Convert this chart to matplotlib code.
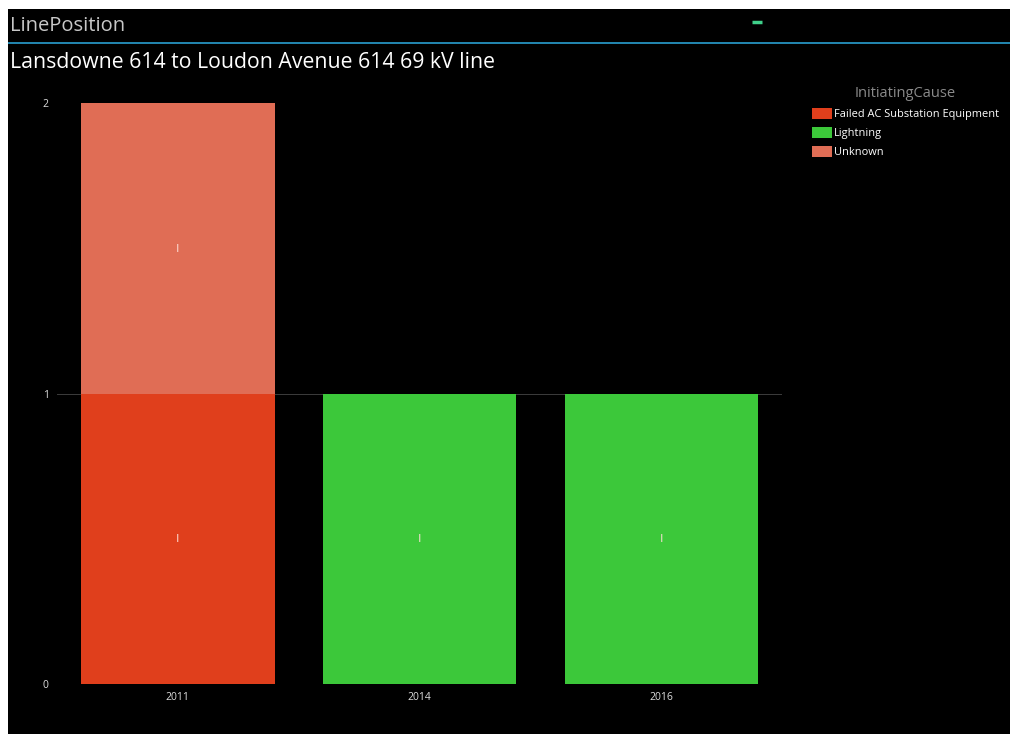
import matplotlib.pyplot as plt
import numpy as np

# Outage counts per year, split by initiating cause
years = ["2011", "2014", "2016"]
causes = ["Failed AC Substation Equipment", "Lightning", "Unknown"]
failed_ac = [1, 0, 0]
lightning = [0, 1, 1]
unknown = [1, 0, 0]
y_ticks = [0, 1, 2]

colors = {
    "Failed AC Substation Equipment": "#e03f1c",
    "Lightning": "#3cc83a",
    "Unknown": "#e06d55",
}

plt.rcParams["font.family"] = ["Open Sans", "DejaVu Sans"]

fig = plt.figure(figsize=(10.1, 7.34), dpi=100)
fig.patch.set_facecolor("white")

# black panel with a thin white frame on the top and left
panel = fig.add_axes([8 / 1010, 0, 1 - 8 / 1010, 1 - 9 / 734])
panel.set_facecolor("black")
panel.set_xticks([])
panel.set_yticks([])
for s in panel.spines.values():
    s.set_visible(False)
panel.set_xlim(0, 1)
panel.set_ylim(0, 1)
# header separator line and small marker
sep_y = 1 - (43 - 9) / (734 - 9)
panel.axhline(sep_y, color="#2a9fd0", lw=1.2)
panel.plot([(752 - 8) / 1002, (762 - 8) / 1002], [1 - (22 - 9) / 725] * 2,
           color="#3fd08a", lw=2.5, solid_capstyle="butt")

fig.text(10 / 1010, 1 - 26 / 734, "LinePosition", color="#c8c8c8",
         fontsize=14.5, va="center", ha="left")
fig.text(10 / 1010, 1 - 63 / 734, "Lansdowne 614 to Loudon Avenue 614 69 kV line",
         color="white", fontsize=15.3, va="center", ha="left")

ax = fig.add_axes([57 / 1010, 50 / 734, 725 / 1010, 581 / 734])
ax.set_facecolor("black")
x = np.arange(len(years))
width = 0.8

# faint reference line at one outage
ax.axhline(1, color="#3c3c3c", lw=0.7, zorder=1)

series = [failed_ac, lightning, unknown]
bottom = np.zeros(len(years))
for cause, vals in zip(causes, series):
    vals = np.array(vals, dtype=float)
    ax.bar(x, vals, width, bottom=bottom, color=colors[cause], label=cause, zorder=2)
    # faint centre marks inside each segment
    for xi, v, b in zip(x, vals, bottom):
        if v > 0:
            ax.text(xi, b + v / 2, "ı", color="#ffe0d8", fontsize=10,
                    ha="center", va="center", alpha=0.85, zorder=3)
    bottom += vals

ax.set_xlim(-0.5, 2.5)
ax.set_ylim(0, 2)
ax.set_yticks(y_ticks)
ax.set_xticks(x)
ax.set_xticklabels(years)
ax.tick_params(colors="#dddddd", labelsize=7.5, length=0, pad=6)
ax.tick_params(axis="y", pad=6)
for s in ax.spines.values():
    s.set_visible(False)

leg = ax.legend(loc="upper left", bbox_to_anchor=(1.035, 1.036), frameon=False,
                title="InitiatingCause", fontsize=7.9, handlelength=1.8,
                handleheight=1.15, handletextpad=0.25, labelspacing=0.62,
                borderaxespad=0)
leg.get_title().set_color("#8a8a8a")
leg.get_title().set_fontsize(10.5)
for t in leg.get_texts():
    t.set_color("white")

fig.savefig("out.png", dpi=100, facecolor=fig.get_facecolor())
